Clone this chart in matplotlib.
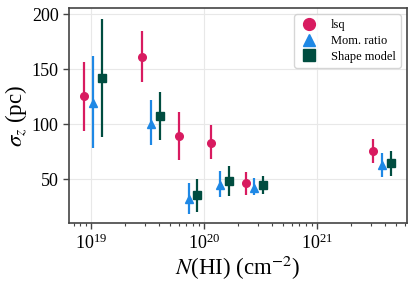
import matplotlib
matplotlib.use('Agg')
import matplotlib.pyplot as plt
from matplotlib.lines import Line2D
import numpy as np

# values
nhi_lsq = [8.7e18, 2.8e19, 6.0e19, 1.15e20, 2.35e20, 3.17e21]
sig_lsq = [125.5, 161, 89, 83, 46, 75.5]
lo_lsq = [94, 138, 67, 68, 35.5, 65]
hi_lsq = [156, 184.5, 111, 99, 56, 86]

nhi_mom = [1.04e19, 3.4e19, 7.3e19, 1.39e20, 2.8e20, 3.8e21]
sig_mom = [119.5, 100.5, 32, 44.5, 42, 62.5]
lo_mom = [78, 81, 18, 34, 35.5, 51.5]
hi_mom = [162, 122, 46, 57.5, 51, 74]

nhi_shape = [1.26e19, 4.07e19, 8.7e19, 1.65e20, 3.35e20, 4.57e21]
sig_shape = [142, 107.5, 35.5, 48, 44.5, 64.5]
lo_shape = [88.5, 85.5, 19.7, 34.5, 36, 53]
hi_shape = [195.5, 129.5, 49.7, 62, 53, 75.5]

plt.rcParams['font.family'] = ['Liberation Serif', 'DejaVu Serif']
plt.rcParams['mathtext.fontset'] = 'stix'

fig, ax = plt.subplots(figsize=(4.16, 2.86), dpi=100)

series = [
    (nhi_lsq, sig_lsq, lo_lsq, hi_lsq, '#D81B60', 'o', 'lsq'),
    (nhi_mom, sig_mom, lo_mom, hi_mom, '#1E88E5', '^', 'Mom. ratio'),
    (nhi_shape, sig_shape, lo_shape, hi_shape, '#004D40', 's', 'Shape model'),
]
handles = []
for x, y, lo, hi, col, mk, lab in series:
    y = np.array(y)
    yerr = [y - np.array(lo), np.array(hi) - y]
    ax.errorbar(x, y, yerr=yerr, fmt=mk, color=col, ms=5.5, elinewidth=1.6,
                capsize=0, zorder=3)
    handles.append(Line2D([], [], ls='none', marker=mk, color=col, ms=8.5, label=lab))

ax.set_xscale('log')
ax.set_xlim(10**18.805, 10**21.797)
ax.set_ylim(10, 205.5)
ax.set_yticks([50, 100, 150, 200])
ax.grid(True, which='major', color='#e8e8e8', lw=0.8, zorder=0)
ax.set_axisbelow(True)

for s in ax.spines.values():
    s.set_color('#444444')
    s.set_linewidth(1.2)
ax.tick_params(which='both', colors='#444444', labelcolor='black', labelsize=13)
ax.tick_params(which='major', length=4, width=1.0)
ax.tick_params(which='minor', length=2, width=0.8)

ax.set_xlabel(r'$N$(HI) (cm$^{-2}$)', fontsize=16.5, labelpad=1)
ax.set_ylabel(r'$\sigma_z$ (pc)', fontsize=16.5, labelpad=2)

leg = ax.legend(handles=handles, loc='upper right', fontsize=9, frameon=True,
                handletextpad=0.9, borderpad=0.4, labelspacing=0.3,
                handlelength=1.6, borderaxespad=0.5)
leg.get_frame().set_edgecolor('#cccccc')

fig.subplots_adjust(left=0.166, right=0.978, top=0.972, bottom=0.22)
fig.savefig('out.png', dpi=100)
